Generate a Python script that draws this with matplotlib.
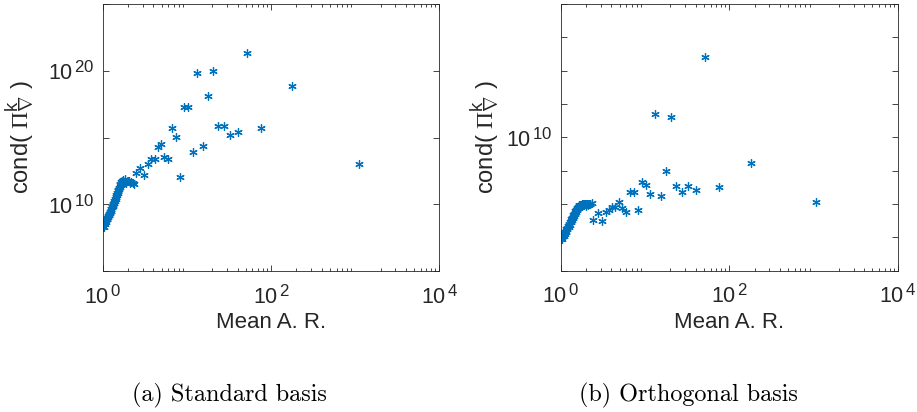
import matplotlib
matplotlib.use("Agg")
import matplotlib.pyplot as plt
import matplotlib._mathtext as _mt
import numpy as np

_mt.SHRINK_FACTOR = 0.78

plt.rcParams['font.family'] = ['Liberation Sans', 'DejaVu Sans']
plt.rcParams['mathtext.fontset'] = 'custom'
plt.rcParams['mathtext.rm'] = 'Liberation Serif'
plt.rcParams['mathtext.it'] = 'Liberation Serif:italic'
plt.rcParams['mathtext.sf'] = 'Liberation Sans'

# ---------------- data: (a) standard basis ----------------
# mean aspect ratio, log10 of condition number
std_x = [52.3, 13.3, 20.5, 178, 17.7, 9.33, 10.4, 6.7, 7.43, 23.4, 27.4, 32.8,
         40.9, 76.7, 1102, 15.4, 11.7, 8.36, 4.5, 4.89, 5.35, 5.97, 3.75, 4.18,
         3.45, 2.75, 2.47, 3.07, 2.07, 2.27]
std_logy = [21.35, 19.85, 19.98, 18.88, 18.10, 17.30, 17.30, 15.69, 15.06, 15.86,
            15.86, 15.19, 15.39, 15.71, 13.02, 14.39, 13.94, 12.07, 14.31, 14.51,
            13.56, 13.41, 13.37, 13.37, 13.02, 12.74, 12.37, 12.19, 11.74, 11.62]
# dense cluster near regular elements
std_band_x = [1.00, 1.01, 1.03, 1.05, 1.07, 1.09, 1.11, 1.14, 1.16, 1.18, 1.20,
              1.22, 1.24, 1.27, 1.29, 1.31, 1.33, 1.35, 1.38, 1.40, 1.43, 1.45,
              1.48, 1.51, 1.53, 1.56, 1.59, 1.62, 1.66, 1.70, 1.74, 1.82, 1.91,
              2.00, 2.09, 2.19, 2.36,
              1.03, 1.06, 1.09, 1.12, 1.15, 1.18, 1.21, 1.24, 1.27, 1.30, 1.33,
              1.36, 1.39, 1.42, 1.45, 1.48, 1.51, 1.54, 1.57, 1.60, 1.64, 1.68,
              1.73, 1.78, 1.85]
std_band_logy = [8.28, 8.40, 8.50, 8.60, 8.70, 8.80, 8.90, 9.00, 9.10, 9.20, 9.30,
                 9.40, 9.52, 9.65, 9.78, 9.90, 10.00, 10.12, 10.25, 10.38, 10.55,
                 10.70, 10.85, 11.00, 11.10, 11.25, 11.42, 11.55, 11.68, 11.78,
                 11.82, 11.87, 11.57, 11.77, 11.57, 11.69, 11.52,
                 8.32, 8.50, 8.68, 8.86, 9.02, 9.18, 9.34, 9.50, 9.66, 9.82, 9.96,
                 10.10, 10.25, 10.40, 10.55, 10.70, 10.85, 11.00, 11.15, 11.30,
                 11.45, 11.55, 11.62, 11.66, 11.70]

# ---------------- data: (b) orthogonal basis ----------------
orth_x = [51.6, 13.3, 20.4, 180, 17.6, 9.23, 10.4, 6.65, 7.42, 11.5, 15.4, 23.4,
          27.3, 32.4, 40.0, 76.3, 1081, 8.34, 4.92, 4.06, 4.45, 5.39, 6.01, 3.45,
          3.74, 2.75, 2.44, 3.07, 2.23]
orth_logy = [12.40, 10.70, 10.61, 9.24, 8.98, 8.65, 8.56, 8.37, 8.37, 8.31, 8.23,
             8.55, 8.35, 8.55, 8.43, 8.52, 8.05, 7.81, 8.05, 7.92, 7.90, 7.87, 7.77,
             7.77, 7.81, 7.72, 7.53, 7.48, 8.00]
orth_band_x = [1.00, 1.02, 1.04, 1.06, 1.08, 1.10, 1.125, 1.15, 1.17, 1.20, 1.22,
               1.24, 1.265, 1.29, 1.31, 1.34, 1.36, 1.39, 1.41, 1.44, 1.46, 1.49,
               1.52, 1.55, 1.57, 1.60, 1.63, 1.66, 1.70, 1.74, 1.78, 1.82, 1.88,
               1.94, 2.00, 2.06, 2.12, 2.18, 2.25, 2.33,
               1.04, 1.08, 1.12, 1.16, 1.20, 1.24, 1.28, 1.32, 1.36, 1.40, 1.44,
               1.48, 1.52, 1.57, 1.62, 1.67, 1.72, 1.80, 1.90, 2.00, 2.10]
orth_band_logy = [6.94, 6.98, 7.02, 7.05, 7.09, 7.12, 7.16, 7.20, 7.24, 7.29, 7.33,
                  7.37, 7.41, 7.46, 7.50, 7.54, 7.58, 7.62, 7.66, 7.70, 7.74, 7.78,
                  7.82, 7.86, 7.89, 7.92, 7.94, 7.96, 7.97, 7.98, 7.99, 7.99, 7.99,
                  7.99, 7.99, 7.99, 8.00, 8.00, 8.01, 8.02,
                  6.95, 7.03, 7.10, 7.17, 7.24, 7.31, 7.38, 7.45, 7.52, 7.59, 7.65,
                  7.71, 7.77, 7.83, 7.88, 7.92, 7.94, 7.95, 7.96, 7.95, 7.96]

x_ticks = [1, 100, 10000]
x_tick_labels = ['0', '2', '4']
std_yticks_exp = [5, 10, 15, 20, 25]
std_ylabel_exp = [10, 20]
orth_yticks_exp = [6, 7, 8, 9, 10, 11, 12, 13, 14]
orth_ylabel_exp = [10]

captions = ['(a) Standard basis', '(b) Orthogonal basis']
xlabel = 'Mean A. R.'
ylabel = r'cond( $\Pi^{\mathsf{k}}_{\nabla}$ )'

blue = '#0072BD'
axcol = '#262626'

fig = plt.figure(figsize=(9.17, 4.12), dpi=100)
ax1 = fig.add_axes([0.112, 0.3422, 0.3671, 0.648])
ax2 = fig.add_axes([0.6115, 0.343, 0.3675, 0.647])


def explabel(e):
    return r'$\mathsf{10}^{\,\mathsf{%s}}$' % e


def style(ax, yexp, ylab_exp, ylim, ylab_x):
    ax.set_xscale('log')
    ax.set_yscale('log')
    ax.set_xlim(1, 1e4)
    ax.set_ylim(*ylim)
    ax.set_xticks(x_ticks)
    ax.set_xticklabels([explabel(t) for t in x_tick_labels])
    ax.xaxis.set_minor_locator(matplotlib.ticker.LogLocator(base=10, subs=np.arange(2, 10)))
    ax.xaxis.set_minor_formatter(matplotlib.ticker.NullFormatter())
    ax.set_yticks([10.0 ** e for e in yexp])
    ax.set_yticklabels([explabel(e) if e in ylab_exp else '' for e in yexp])
    ax.yaxis.set_minor_locator(matplotlib.ticker.NullLocator())
    ax.tick_params(which='both', direction='in', top=True, right=True,
                   color=axcol, width=0.6, labelcolor=axcol, labelsize=15.5)
    ax.tick_params(which='major', length=4)
    ax.tick_params(which='minor', length=2)
    ax.tick_params(axis='x', pad=10)
    ax.tick_params(axis='y', pad=6)
    for s in ax.spines.values():
        s.set_color(axcol)
        s.set_linewidth(0.6)
    ax.set_xlabel(xlabel, fontsize=16, color=axcol, labelpad=3)
    ax.set_ylabel(ylabel, fontsize=17, color=axcol)
    ax.yaxis.set_label_coords(ylab_x, 0.5)


mk = dict(linestyle='none', marker=(6, 2, 0), ms=6, mew=0.9, color=blue, clip_on=True)
ax1.plot(std_band_x, [10.0 ** v for v in std_band_logy], **mk)
ax1.plot(std_x, [10.0 ** v for v in std_logy], **mk)
ax2.plot(orth_band_x, [10.0 ** v for v in orth_band_logy], **mk)
ax2.plot(orth_x, [10.0 ** v for v in orth_logy], **mk)

style(ax1, std_yticks_exp, std_ylabel_exp, (1e5, 1e25), -0.201)
style(ax2, orth_yticks_exp, orth_ylabel_exp, (1e6, 1e14), -0.18)

fig.text(229.5 / 917, 1 - 401 / 412, captions[0], family='cmr10', fontsize=17.4,
         ha='center', va='baseline', color='black')
fig.text(688 / 917, 1 - 401 / 412, captions[1], family='cmr10', fontsize=17.4,
         ha='center', va='baseline', color='black')

fig.savefig('out.png', dpi=100)
